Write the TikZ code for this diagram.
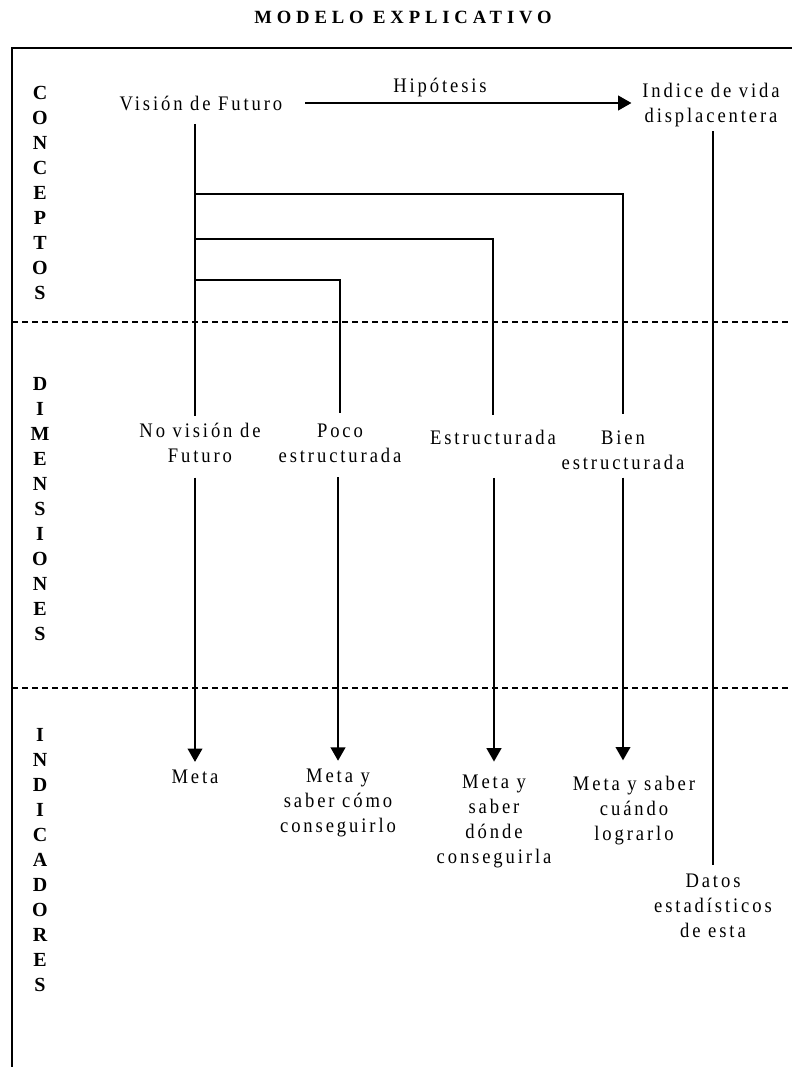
\documentclass[tikz,border=0pt]{standalone}
\usepackage{fontspec}
\setmainfont{Liberation Serif}
\newfontfamily\spacedfont[LetterSpace=14,FakeStretch=0.9]{Liberation Serif}
\newfontfamily\titlefont[LetterSpace=26]{Liberation Serif}
\usetikzlibrary{arrows.meta}

\begin{document}
\begin{tikzpicture}[x=0.75pt,y=-0.75pt]
    \tikzstyle{Label} = [
            inner sep=0pt,
            align=center,
            font={\spacedfont\fontsize{15.5}{18.75}\selectfont}
    ];
    \tikzstyle{Letters} = [
            inner sep=0pt,
            align=center,
            font={\bfseries\fontsize{15}{18.75}\selectfont}
    ];
    \tikzstyle{Title} = [
            inner sep=0pt,
            font={\titlefont\bfseries\fontsize{14}{16}\selectfont}
    ];
    \tikzstyle{Edge} = [
            draw=black,
            line width=1.4pt
    ];
    \tikzstyle{ArrowEdge} = [
            Edge,
            -{Triangle[length=10pt,width=11pt]}
    ];
    \tikzstyle{Frame} = [
            draw=black,
            line width=1.5pt
    ];
    \tikzstyle{Sep} = [
            draw=black,
            line width=0.8pt,
            dash pattern=on 4.5pt off 3pt
    ];

    \useasboundingbox (0,0) rectangle (792,1067);

    % frame and section separators
    \draw[Frame] (12,1067) -- (12,48) -- (792,48);
    \draw[Sep] (12,322) -- (792,322);
    \draw[Sep] (12,688) -- (792,688);

    \node[Title, name=title] at (403,17) {MODELO EXPLICATIVO};

    \node[Letters, name=conceptos]   at (40,193) {C\\O\\N\\C\\E\\P\\T\\O\\S};
    \node[Letters, name=dimensiones] at (40,509) {D\\I\\M\\E\\N\\S\\I\\O\\N\\E\\S};
    \node[Letters, name=indicadores] at (40,860) {I\\N\\D\\I\\C\\A\\D\\O\\R\\E\\S};

    \node[Label, name=vision]    at (201,103) {Visión de Futuro};
    \node[Label, name=hipotesis] at (440,88)  {Hipótesis};
    \node[Label, name=indice]    at (711,105) {Indice de vida\\displacentera};

    \node[Label, name=novision] at (200,443) {No visión de\\Futuro};
    \node[Label, name=poco]     at (340,443) {Poco\\estructurada};
    \node[Label, name=estruct]  at (493,437) {Estructurada};
    \node[Label, name=bien]     at (623,450) {Bien\\estructurada};

    \node[Label, name=meta1] at (195,777) {Meta};
    \node[Label, name=meta2] at (338,803) {Meta y\\saber cómo\\conseguirlo};
    \node[Label, name=meta3] at (494,821) {Meta y\\saber\\dónde\\conseguirla};
    \node[Label, name=meta4] at (634,811) {Meta y saber\\cuándo\\lograrlo};
    \node[Label, name=datos] at (713,906) {Datos\\estadísticos\\de esta};

    % branch points on the trunk
    \coordinate (ja) at (195,194);
    \coordinate (jb) at (195,239);
    \coordinate (jc) at (195,280);

    \draw[ArrowEdge, shorten <=17pt, shorten >=8pt] (vision.east) -- (indice.west |- vision.east);
    \draw[Edge, shorten <=10pt, shorten >=5pt] (vision.south -| ja) -- (novision.north -| ja);
    \draw[Edge, shorten >=12.5pt] (ja) -| (bien.north);
    \draw[Edge, shorten >=11pt]   (jb) -| (estruct.north);
    \draw[Edge, shorten >=8pt]    (jc) -| (poco.north);

    \draw[ArrowEdge, shorten <=11pt, shorten >=6pt]    (novision.south -| meta1.north) -- (meta1.north);
    \draw[ArrowEdge, shorten <=11pt, shorten >=6pt]    (poco.south -| meta2.north) -- (meta2.north);
    \draw[ArrowEdge, shorten <=25pt, shorten >=9.5pt]  (estruct.south -| meta3.north) -- (meta3.north);
    \draw[ArrowEdge, shorten <=6pt, shorten >=12pt]    (bien.south) -- (bien.south |- meta4.north);
    \draw[Edge, shorten <=3pt, shorten >=7pt]          (indice.south -| datos.north) -- (datos.north);
\end{tikzpicture}
\end{document}
